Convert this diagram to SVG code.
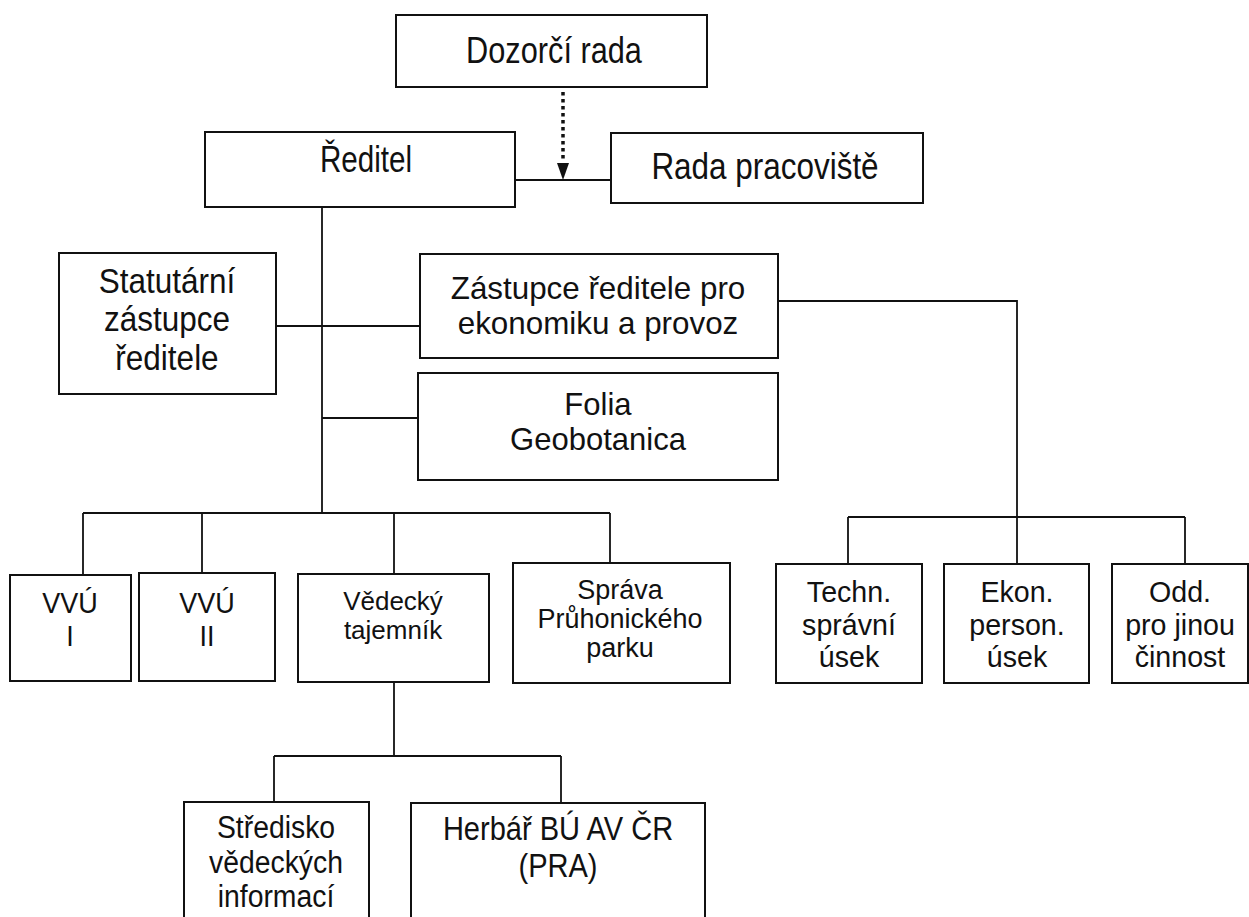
<svg xmlns="http://www.w3.org/2000/svg" width="1249" height="917" viewBox="0 0 1249 917">
<style>
.box{fill:#fff;stroke:#111;stroke-width:2}
.ln{fill:none;stroke:#111;stroke-width:1.8}
text{font-family:"Liberation Sans",Arial,sans-serif;fill:#111;text-anchor:middle}
.a{font-size:37px}
.s{font-size:35px}
.z{font-size:32px}
.v{font-size:30px}
.d{font-size:26px}
.p{font-size:27px}
.r{font-size:29.5px}
.m{font-size:31.5px}
.h{font-size:33px}
</style>
<rect width="1249" height="917" fill="#fff"/>
<g id="connectors">
<line class="ln" x1="515" y1="180" x2="611" y2="180"/>
<line x1="563" y1="92" x2="563" y2="162" stroke="#111" stroke-width="3.5" stroke-dasharray="3.5,3.5"/>
<polygon points="557,163 569,163 563,180" fill="#111"/>
<line class="ln" x1="322" y1="207" x2="322" y2="513"/>
<line class="ln" x1="276" y1="326" x2="420" y2="326"/>
<polyline class="ln" points="778,301 1017,301 1017,564"/>
<line class="ln" x1="848" y1="517" x2="1185" y2="517"/>
<line class="ln" x1="848" y1="517" x2="848" y2="564"/>
<line class="ln" x1="1185" y1="517" x2="1185" y2="564"/>
<line class="ln" x1="322" y1="418" x2="418" y2="418"/>
<line class="ln" x1="83" y1="513" x2="610" y2="513"/>
<line class="ln" x1="83" y1="513" x2="83" y2="575"/>
<line class="ln" x1="202" y1="513" x2="202" y2="573"/>
<line class="ln" x1="394" y1="513" x2="394" y2="574"/>
<line class="ln" x1="610" y1="513" x2="610" y2="563"/>
<line class="ln" x1="394" y1="682" x2="394" y2="756"/>
<line class="ln" x1="274" y1="756" x2="561" y2="756"/>
<line class="ln" x1="274" y1="756" x2="274" y2="802"/>
<line class="ln" x1="561" y1="756" x2="561" y2="803"/>
</g>
<g id="dozorci"><rect class="box" x="396" y="15" width="311" height="72"/><text class="a" transform="matrix(0.83 0 0 1 554 63)">Dozorčí rada</text></g>
<g id="reditel"><rect class="box" x="205" y="132" width="310" height="75"/><text class="a" transform="matrix(0.8 0 0 1 366 172)">Ředitel</text></g>
<g id="rada"><rect class="box" x="611" y="133" width="312" height="70"/><text class="a" transform="matrix(0.85 0 0 1 765 179)">Rada pracoviště</text></g>
<g id="statutarni"><rect class="box" x="59" y="253" width="217" height="141"/>
<text class="s" transform="matrix(0.9 0 0 1 167 293)">Statutární</text>
<text class="s" transform="matrix(0.9 0 0 1 167 331)">zástupce</text>
<text class="s" transform="matrix(0.9 0 0 1 167 370)">ředitele</text></g>
<g id="zastupce"><rect class="box" x="420" y="254" width="358" height="104"/>
<text class="z" transform="matrix(0.98 0 0 1 598 299)">Zástupce ředitele pro</text>
<text class="z" transform="matrix(0.98 0 0 1 598 334)">ekonomiku a provoz</text></g>
<g id="folia"><rect class="box" x="418" y="373" width="360" height="107"/>
<text class="z" transform="matrix(0.97 0 0 1 598 415)">Folia</text>
<text class="z" transform="matrix(0.97 0 0 1 598 450)">Geobotanica</text></g>
<g id="vvu1"><rect class="box" x="10" y="575" width="121" height="106"/>
<text class="v" transform="matrix(0.9 0 0 1 70 613)">VVÚ</text>
<text class="v" transform="matrix(0.9 0 0 1 70 646)">I</text></g>
<g id="vvu2"><rect class="box" x="139" y="573" width="136" height="108"/>
<text class="v" transform="matrix(0.9 0 0 1 207 613)">VVÚ</text>
<text class="v" transform="matrix(0.9 0 0 1 207 646)">II</text></g>
<g id="vedecky"><rect class="box" x="298" y="574" width="191" height="108"/>
<text class="d" transform="matrix(1 0 0 1 393 610)">Vědecký</text>
<text class="d" transform="matrix(1 0 0 1 393 639)">tajemník</text></g>
<g id="sprava"><rect class="box" x="513" y="563" width="217" height="120"/>
<text class="p" transform="matrix(1 0 0 1 620 599)">Správa</text>
<text class="p" transform="matrix(1 0 0 1 620 628)">Průhonického</text>
<text class="p" transform="matrix(1 0 0 1 620 657)">parku</text></g>
<g id="techn"><rect class="box" x="776" y="564" width="146" height="119"/>
<text class="r" transform="matrix(0.97 0 0 1 849 602)">Techn.</text>
<text class="r" transform="matrix(0.97 0 0 1 849 635)">správní</text>
<text class="r" transform="matrix(0.97 0 0 1 849 667)">úsek</text></g>
<g id="ekon"><rect class="box" x="944" y="564" width="145" height="119"/>
<text class="r" transform="matrix(0.97 0 0 1 1017 602)">Ekon.</text>
<text class="r" transform="matrix(0.97 0 0 1 1017 635)">person.</text>
<text class="r" transform="matrix(0.97 0 0 1 1017 667)">úsek</text></g>
<g id="odd"><rect class="box" x="1112" y="564" width="136" height="119"/>
<text class="r" transform="matrix(0.97 0 0 1 1180 602)">Odd.</text>
<text class="r" transform="matrix(0.97 0 0 1 1180 635)">pro jinou</text>
<text class="r" transform="matrix(0.97 0 0 1 1180 667)">činnost</text></g>
<g id="stredisko"><rect class="box" x="184" y="802" width="185" height="130"/>
<text class="m" transform="matrix(0.9 0 0 1 276 838)">Středisko</text>
<text class="m" transform="matrix(0.9 0 0 1 276 873)">vědeckých</text>
<text class="m" transform="matrix(0.9 0 0 1 276 907)">informací</text></g>
<g id="herbar"><rect class="box" x="411" y="803" width="294" height="130"/>
<text class="h" transform="matrix(0.88 0 0 1 558 840)">Herbář BÚ AV ČR</text>
<text class="h" transform="matrix(0.88 0 0 1 558 877)">(PRA)</text></g>
</svg>
